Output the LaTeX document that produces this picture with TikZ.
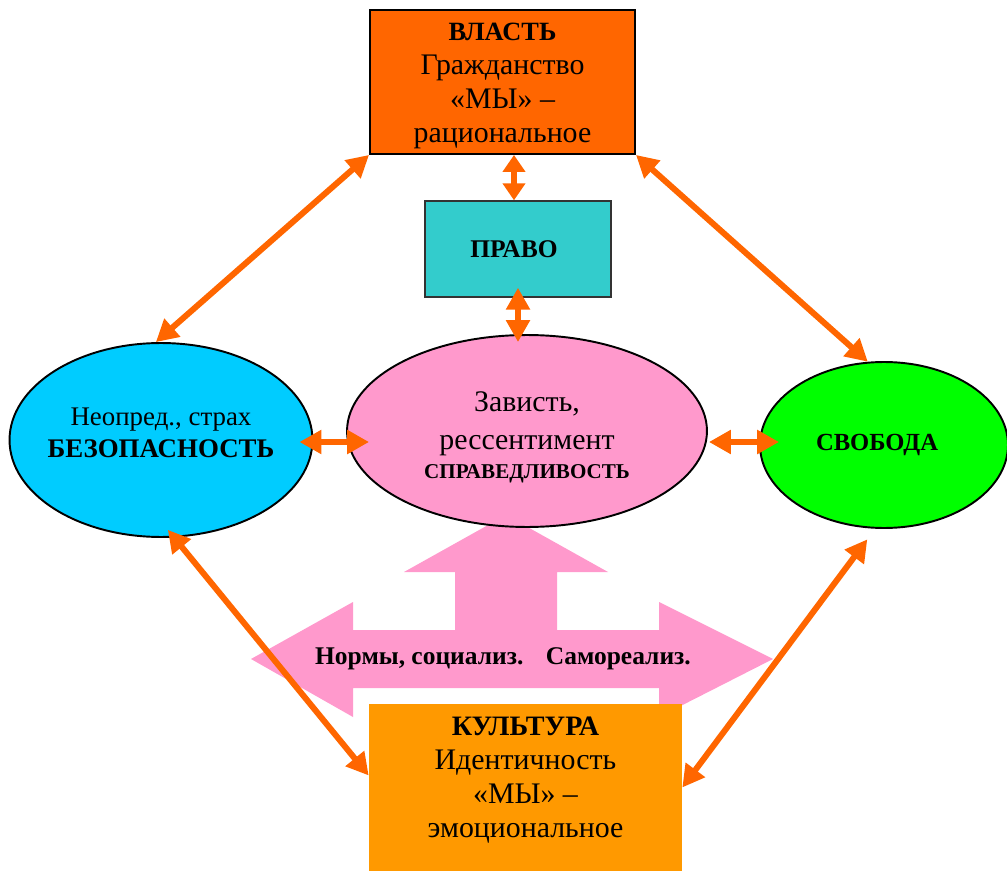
\documentclass[tikz,border=0pt]{standalone}
\usepackage{fontspec}
\setmainfont{Liberation Serif}
\usetikzlibrary{shapes.geometric,arrows.meta,calc}

\definecolor{vlastcol}{HTML}{FF6600}
\definecolor{pravocol}{HTML}{33CCCC}
\definecolor{bezcol}{HTML}{00CCFF}
\definecolor{sprcol}{HTML}{FF99CC}
\definecolor{svobcol}{HTML}{00FF00}
\definecolor{kultcol}{HTML}{FF9900}
\definecolor{arrcol}{HTML}{FF6600}

\tikzset{
	bigbox/.style={rectangle, inner sep=0pt},
	bigtext/.style={align=center, inner sep=0pt, font=\fontsize{17}{19.3}\selectfont},
	oval/.style={ellipse, draw=black, line width=1.1pt, inner sep=0pt},
	ovaltext/.style={align=center, inner sep=0pt},
	biarrow/.style={draw=arrcol, line width=0.12cm, {Triangle[length=0.44cm,width=0.46cm]}-{Triangle[length=0.44cm,width=0.46cm]}},
	shortarrow/.style={biarrow, {Triangle[length=0.34cm,width=0.44cm]}-{Triangle[length=0.34cm,width=0.44cm]}}
}

\begin{document}
\begin{tikzpicture}[x=0.02cm, y=-0.02cm]
			\useasboundingbox (0,0) rectangle (1007,871);
			% big pink arrow
			\fill[sprcol] (506,515) -- (608,572) -- (557,572) -- (557,630) -- (659,630) -- (659,602)
				-- (773,659) -- (659,717) -- (659,688) -- (353,688) -- (353,717) -- (251,659)
				-- (353,602) -- (353,630) -- (455,630) -- (455,572) -- (404,572) -- cycle;
			\node	(norm) at (503,659) [font=\fontsize{14.5}{16}\selectfont\bfseries] {Нормы, социализ.\hspace{0.45cm}Самореализ.};
			\node	(vlast) at (502.5,82) [bigbox, draw=black, line width=1.1pt, fill=vlastcol, minimum width=5.3cm, minimum height=2.88cm,
				label={[bigtext, yshift=-0.08cm]center:{\fontsize{15}{19.3}\selectfont\bfseries ВЛАСТЬ}\\Гражданство\\«МЫ» –\\рациональное}] {};
			\node	(pravo) at (518,249) [rectangle, draw=black!80, line width=0.8pt, fill=pravocol, minimum width=3.72cm, minimum height=1.92cm,
				label={[font=\fontsize{14.5}{16}\selectfont\bfseries, xshift=-0.08cm]center:ПРАВО}] {};
			\node	(bez) at (161,440) [oval, fill=bezcol, minimum width=6.06cm, minimum height=3.88cm,
				label={[ovaltext, font=\fontsize{15.3}{18.5}\selectfont, yshift=0.14cm]center:Неопред., страх\\\textbf{БЕЗОПАСНОСТЬ}}] {};
			\node	(spr) at (527,431) [oval, fill=sprcol, minimum width=7.2cm, minimum height=3.84cm,
				label={[ovaltext, font=\fontsize{17}{21.5}\selectfont, yshift=-0.12cm]center:Зависть,\\рессентимент\\[-5pt]{\fontsize{12}{14}\selectfont\bfseries СПРАВЕДЛИВОСТЬ}}] {};
			\node	(svob) at (884,445) [oval, fill=svobcol, minimum width=4.96cm, minimum height=3.32cm,
				label={[font=\fontsize{14}{15}\selectfont\bfseries, xshift=-0.14cm]center:СВОБОДА}] {};
			\node	(kult) at (525.5,787.5) [bigbox, fill=kultcol, minimum width=6.26cm, minimum height=3.34cm,
				label={[bigtext, yshift=0.15cm]center:{\fontsize{16}{19.3}\selectfont\bfseries КУЛЬТУРА}\\Идентичность\\«МЫ» –\\эмоциональное}] {};
			\draw 
			(vlast.south west) edge[biarrow] (bez.93)
			(vlast.south east) edge[biarrow] (svob.101)
			($(pravo.north |- vlast.south)+(-4,0)$) edge[shortarrow] ($(pravo.north)+(-4,0)$)
			($(pravo.south)+(0,-10)$) edge[biarrow] ($(pravo.south |- spr.north)+(0,8)$)
			($(bez.east)+(-14,2)$) edge[biarrow] ($(spr.west)+(23,11)$)
			($(spr.east)+(1,11)$) edge[biarrow] ($(svob.west)+(20,-3)$)
			($(bez.-86)+(0,-8)$) edge[biarrow] ($(kult.west)+(0,-12)$)
			($(svob.-100)+(-2,11)$) edge[biarrow] (kult.east)
			;
		\end{tikzpicture}
\end{document}
